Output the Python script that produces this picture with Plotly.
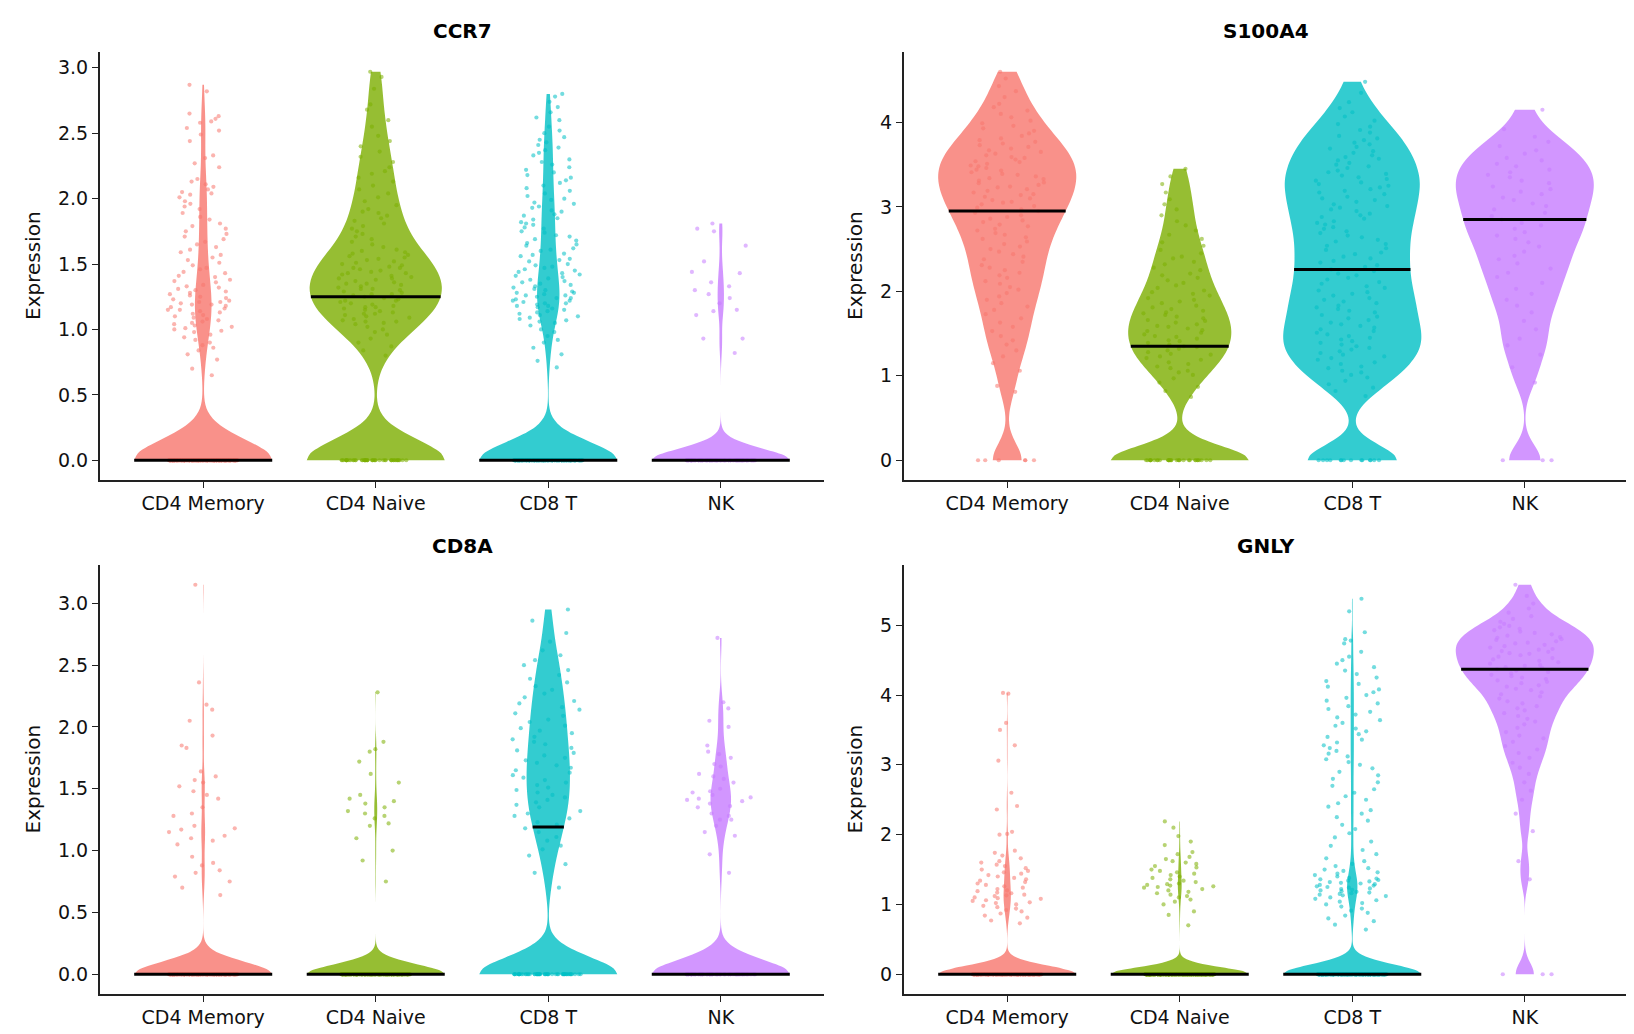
import numpy as np
import plotly.graph_objects as go

cell_types = ["CD4 Memory", "CD4 Naive", "CD8 T", "NK"]
genes = ["CCR7", "S100A4", "CD8A", "GNLY"]
colors = ["#F8766D", "#7CAE00", "#00BFC4", "#C77CFF"]

# ---------------- CCR7 ----------------
ccr7_zero_counts = [320, 48, 240, 140]
ccr7_medians = [0.0, 1.25, 0.0, 0.0]
ccr7_cd4_memory = [
    2.87, 2.82, 2.65, 2.63, 2.61, 2.59, 2.58, 2.54, 2.52, 2.49, 2.44, 2.33, 2.31, 2.27, 2.24, 2.15, 2.13, 2.11,
    2.09, 2.07, 2.05, 2.04, 2.03, 2.01, 1.98, 1.96, 1.94, 1.92, 1.89, 1.86, 1.84, 1.81,
    1.79, 1.77, 1.75, 1.73, 1.71, 1.69, 1.67, 1.65, 1.63, 1.61, 1.59, 1.57, 1.55, 1.53, 1.51,
    1.49, 1.47, 1.46, 1.44, 1.43, 1.41, 1.40, 1.38, 1.37, 1.36, 1.34, 1.33, 1.32, 1.31, 1.30, 1.29, 1.28,
    1.27, 1.26, 1.25, 1.24, 1.23, 1.22, 1.21, 1.21, 1.20, 1.19, 1.19, 1.18, 1.17, 1.16, 1.15, 1.15, 1.14,
    1.13, 1.12, 1.11, 1.10, 1.09, 1.08, 1.07, 1.06, 1.05, 1.04, 1.03, 1.02, 1.01, 1.00, 0.99, 0.98,
    0.96, 0.94, 0.92, 0.90, 0.88, 0.86, 0.84, 0.81, 0.77, 0.70, 0.65]
ccr7_cd4_naive = [
    2.97, 2.93, 2.84, 2.72, 2.68, 2.60, 2.55,
    2.48, 2.44, 2.40, 2.36, 2.32, 2.28, 2.24, 2.21,
    2.19, 2.16, 2.13, 2.10, 2.07, 2.04, 2.01, 1.98, 1.95, 1.92, 1.90,
    1.89, 1.87, 1.85, 1.83, 1.81, 1.79, 1.77, 1.75, 1.73, 1.71, 1.69, 1.67, 1.65, 1.63, 1.61, 1.60,
    1.59, 1.58, 1.57, 1.56, 1.55, 1.54, 1.53, 1.52, 1.51, 1.50, 1.49, 1.48, 1.47, 1.47, 1.46, 1.45, 1.44,
    1.43, 1.43, 1.42, 1.41, 1.40, 1.39, 1.39, 1.38, 1.37, 1.36, 1.35, 1.35, 1.34, 1.33, 1.32, 1.31, 1.31,
    1.30, 1.29, 1.28, 1.27, 1.27, 1.26, 1.25,
    1.24, 1.23, 1.22, 1.22, 1.21, 1.20, 1.19, 1.18, 1.17, 1.17, 1.16, 1.15, 1.14, 1.13, 1.12, 1.12, 1.11,
    1.10, 1.09, 1.08, 1.07, 1.06, 1.06, 1.05, 1.04, 1.02, 1.00,
    0.98, 0.96, 0.93, 0.90, 0.87, 0.84, 0.80]
ccr7_cd8_t = [
    2.80, 2.78, 2.74, 2.70, 2.66, 2.62, 2.60, 2.55, 2.52, 2.50, 2.47, 2.45, 2.43, 2.41,
    2.39, 2.37, 2.35, 2.33, 2.30, 2.28, 2.26, 2.24, 2.22, 2.20, 2.18, 2.16, 2.14, 2.12, 2.10, 2.08, 2.06,
    2.04, 2.02, 2.00, 1.99, 1.97, 1.96, 1.94, 1.93, 1.91, 1.90, 1.88, 1.87, 1.85, 1.84, 1.82, 1.81, 1.80,
    1.78, 1.77, 1.75, 1.74, 1.72, 1.71, 1.69, 1.68, 1.66, 1.65, 1.64, 1.62, 1.61, 1.60, 1.58, 1.57, 1.56,
    1.54, 1.53, 1.52, 1.50, 1.49, 1.48, 1.47, 1.46, 1.45, 1.44, 1.43, 1.42, 1.41, 1.40, 1.39, 1.38, 1.37,
    1.36, 1.35, 1.34, 1.33, 1.32, 1.31, 1.30, 1.29, 1.28, 1.28, 1.27, 1.26, 1.26, 1.25, 1.24, 1.24, 1.23,
    1.22, 1.22, 1.21, 1.20, 1.20, 1.19, 1.18, 1.18, 1.17, 1.16, 1.15, 1.14, 1.13, 1.12, 1.11, 1.10, 1.09,
    1.08, 1.07, 1.06, 1.05, 1.03, 1.00, 0.98, 0.95, 0.92, 0.90, 0.86, 0.81, 0.76, 0.71]
ccr7_nk = [1.81, 1.77, 1.75, 1.64, 1.52, 1.44, 1.43, 1.36, 1.33, 1.30, 1.27, 1.24, 1.20, 1.15, 1.14,
           1.11, 0.93, 0.93, 0.82]

# ---------------- S100A4 ----------------
s100a4_zero_counts = [6, 32, 14, 3]
s100a4_medians = [2.95, 1.35, 2.26, 2.85]
s100a4_cd4_memory = [
    4.60, 4.52, 4.43, 4.37, 4.30, 4.22, 4.18, 4.14, 4.10, 4.06, 4.02, 3.99, 3.96, 3.93, 3.90, 3.87, 3.84,
    3.81, 3.79, 3.77, 3.75, 3.73, 3.71, 3.69, 3.67, 3.65, 3.63, 3.61, 3.59, 3.58, 3.56, 3.54, 3.53, 3.51,
    3.49, 3.48, 3.46, 3.44, 3.43, 3.41, 3.39, 3.38, 3.36, 3.34, 3.33, 3.31, 3.29, 3.28, 3.26, 3.24, 3.23,
    3.21, 3.19, 3.17, 3.15, 3.14, 3.12, 3.10, 3.08, 3.06, 3.05, 3.03, 3.01, 2.99, 2.97, 2.95, 2.93, 2.90,
    2.88, 2.86, 2.84, 2.82, 2.79, 2.77, 2.74, 2.72, 2.69, 2.67, 2.64, 2.62, 2.59, 2.56, 2.53, 2.50, 2.47,
    2.44, 2.41, 2.38, 2.35, 2.31, 2.28, 2.25, 2.22, 2.19, 2.16, 2.12, 2.09, 2.05, 2.02, 1.98, 1.94, 1.90,
    1.86, 1.82, 1.78, 1.73, 1.68, 1.63, 1.58, 1.53, 1.47, 1.42, 1.37, 1.30, 1.23, 1.15, 1.06, 0.88, 0.81]
s100a4_cd4_naive = [
    3.45, 3.36, 3.27, 3.17, 3.09, 3.03, 2.97, 2.90, 2.83, 2.78, 2.72, 2.67, 2.62, 2.58, 2.54, 2.49, 2.45,
    2.41, 2.39, 2.35, 2.32, 2.28, 2.25, 2.21, 2.19, 2.16, 2.13, 2.10, 2.07, 2.04, 2.01, 1.99, 1.97, 1.95,
    1.92, 1.90, 1.88, 1.86, 1.83, 1.81, 1.79, 1.77, 1.75, 1.74, 1.72, 1.70, 1.68, 1.66, 1.65, 1.63, 1.61,
    1.59, 1.58, 1.56, 1.54, 1.53, 1.51, 1.49, 1.47, 1.46, 1.44, 1.42, 1.41, 1.39, 1.37, 1.35, 1.34, 1.32,
    1.30, 1.28, 1.26, 1.25, 1.23, 1.21, 1.19, 1.16, 1.14, 1.11, 1.09, 1.06, 1.04, 1.01, 0.97, 0.92, 0.87,
    0.82, 0.75]
s100a4_cd8_t = [
    4.48, 4.35, 4.24, 4.17, 4.12, 4.07, 4.02, 3.98, 3.95, 3.91, 3.88, 3.84, 3.81, 3.79, 3.76, 3.74, 3.71,
    3.69, 3.66, 3.64, 3.61, 3.59, 3.57, 3.55, 3.52, 3.50, 3.48, 3.46, 3.43, 3.41, 3.39, 3.37, 3.35, 3.33,
    3.31, 3.29, 3.27, 3.25, 3.23, 3.21, 3.19, 3.17, 3.15, 3.12, 3.10, 3.08, 3.06, 3.03, 3.01, 2.99, 2.97,
    2.95, 2.92, 2.90, 2.88, 2.86, 2.83, 2.81, 2.79, 2.76, 2.74, 2.71, 2.69, 2.66, 2.64, 2.61, 2.59, 2.56,
    2.54, 2.51, 2.49, 2.46, 2.44, 2.41, 2.39, 2.36, 2.34, 2.31, 2.29, 2.26, 2.24, 2.21, 2.19, 2.16, 2.14,
    2.11, 2.09, 2.06, 2.04, 2.01, 1.99, 1.97, 1.95, 1.92, 1.90, 1.88, 1.86, 1.83, 1.81, 1.79, 1.77, 1.75,
    1.72, 1.70, 1.68, 1.66, 1.63, 1.61, 1.59, 1.57, 1.55, 1.53, 1.51, 1.49, 1.47, 1.45, 1.43, 1.41, 1.39,
    1.37, 1.35, 1.33, 1.31, 1.29, 1.27, 1.25, 1.23, 1.21, 1.19, 1.16, 1.14, 1.11, 1.09, 1.06, 1.04, 1.01,
    0.98, 0.94, 0.90, 0.86, 0.82, 0.76]
s100a4_nk = [
    4.15, 3.92, 3.83, 3.77, 3.72, 3.67, 3.63, 3.58, 3.55, 3.51, 3.48, 3.44, 3.41, 3.38,
    3.35, 3.31, 3.28, 3.24, 3.21, 3.18, 3.15, 3.11, 3.08, 3.04, 3.01, 2.97, 2.93, 2.89, 2.85, 2.81, 2.78,
    2.74, 2.70, 2.66, 2.62, 2.58, 2.53, 2.47, 2.42, 2.38, 2.33, 2.27, 2.22, 2.17, 2.10, 2.03, 1.97, 1.90,
    1.83, 1.75, 1.65, 1.55, 1.44, 1.36, 1.25, 1.10, 0.92]

# ---------------- CD8A ----------------
cd8a_zero_counts = [300, 350, 55, 95]
cd8a_medians = [0.0, 0.0, 1.19, 0.0]
cd8a_cd4_memory = [
    3.15, 2.36, 2.18, 2.14, 2.05, 1.93, 1.85, 1.83, 1.64, 1.60, 1.57, 1.55, 1.52, 1.48, 1.45, 1.42, 1.35,
    1.30, 1.28, 1.20, 1.18, 1.17, 1.15, 1.12, 1.10, 1.08, 1.05, 0.95, 0.90, 0.88, 0.84, 0.82, 0.79, 0.75,
    0.70, 0.64]
cd8a_cd4_naive = [
    2.28, 1.88, 1.82, 1.80, 1.72, 1.62, 1.55, 1.45, 1.42, 1.40, 1.38, 1.35, 1.32, 1.30, 1.28, 1.26, 1.22,
    1.20, 1.10, 1.00, 0.92, 0.75]
cd8a_cd8_t = [
    2.95, 2.86, 2.76, 2.69, 2.62, 2.58, 2.54, 2.50, 2.46, 2.42, 2.39, 2.36, 2.33, 2.30, 2.27, 2.24, 2.21,
    2.19, 2.16, 2.14, 2.11, 2.09, 2.06, 2.04, 2.01, 1.99, 1.97, 1.95, 1.92, 1.90, 1.88, 1.86, 1.83, 1.81,
    1.79, 1.77, 1.75, 1.73, 1.71, 1.69, 1.67, 1.65, 1.63, 1.61, 1.59, 1.57, 1.55, 1.53, 1.51, 1.49, 1.47,
    1.45, 1.43, 1.41, 1.39, 1.37, 1.35, 1.32, 1.30, 1.28, 1.26, 1.23, 1.21, 1.18, 1.15, 1.11, 1.08, 1.04,
    1.01, 0.96, 0.89, 0.82, 0.70]
cd8a_nk = [
    2.72, 2.20, 2.15, 2.05, 2.00, 1.85, 1.80, 1.78, 1.75, 1.70, 1.68, 1.62, 1.60, 1.58, 1.55, 1.50, 1.48,
    1.47, 1.45, 1.43, 1.42, 1.41, 1.40, 1.38, 1.36, 1.35, 1.30, 1.28, 1.25, 1.25, 1.20, 1.15, 1.12, 0.97,
    0.82]

# ---------------- GNLY ----------------
gnly_zero_counts = [350, 550, 380, 3]
gnly_medians = [0.0, 0.0, 0.0, 4.37]
gnly_cd4_memory = [
    4.03, 4.02, 3.60, 3.50, 3.28, 3.06, 2.60, 2.41, 2.36, 2.04, 2.01, 2.00, 1.77, 1.74, 1.70, 1.66, 1.62,
    1.60, 1.57, 1.55, 1.52, 1.50, 1.48, 1.46, 1.44, 1.42, 1.40, 1.38, 1.36, 1.34, 1.32, 1.30, 1.28, 1.26,
    1.24, 1.22, 1.20, 1.19, 1.17, 1.16, 1.14, 1.13, 1.12, 1.10, 1.09, 1.08, 1.06, 1.05, 1.03, 1.02, 1.00,
    0.98, 0.96, 0.94, 0.92, 0.90, 0.87, 0.84, 0.81, 0.77, 0.73]
gnly_cd4_naive = [
    2.19, 2.10, 1.98, 1.90, 1.85, 1.75, 1.72, 1.68, 1.65, 1.62, 1.60, 1.58, 1.55, 1.53, 1.50, 1.48, 1.46,
    1.44, 1.42, 1.40, 1.38, 1.36, 1.34, 1.32, 1.30, 1.29, 1.28, 1.27, 1.26, 1.25, 1.24, 1.22, 1.20, 1.18,
    1.16, 1.14, 1.12, 1.10, 1.07, 1.04, 1.00, 0.90, 0.85, 0.70]
gnly_cd8_t = [
    5.38, 5.20, 4.90, 4.80, 4.78, 4.74, 4.62, 4.55, 4.50, 4.45, 4.40, 4.35, 4.30, 4.25, 4.20, 4.16, 4.12,
    4.08, 4.04, 4.00, 3.96, 3.92, 3.88, 3.84, 3.80, 3.76, 3.72, 3.68, 3.64, 3.60, 3.56, 3.52, 3.48, 3.44,
    3.40, 3.36, 3.32, 3.28, 3.24, 3.20, 3.16, 3.12, 3.08, 3.04, 3.00, 2.95, 2.90, 2.85, 2.80, 2.75, 2.70,
    2.65, 2.60, 2.55, 2.50, 2.45, 2.40, 2.35, 2.30, 2.25, 2.20, 2.14, 2.08, 2.02, 1.96, 1.90, 1.84, 1.78,
    1.72, 1.66, 1.62, 1.58, 1.55, 1.52, 1.50, 1.48, 1.46, 1.44, 1.42, 1.40, 1.38, 1.37, 1.36, 1.35, 1.34,
    1.33, 1.32, 1.31, 1.30, 1.29, 1.28, 1.27, 1.26, 1.25, 1.24, 1.23, 1.22, 1.21, 1.20, 1.19, 1.18, 1.17,
    1.16, 1.15, 1.14, 1.13, 1.12, 1.10, 1.08, 1.06, 1.04, 1.02, 1.00, 0.97, 0.94, 0.91, 0.88, 0.84, 0.80,
    0.76, 0.71, 0.64]
gnly_nk = [
    5.58, 5.42, 5.31, 5.24, 5.18, 5.13, 5.09, 5.05, 5.02,
    4.99, 4.97, 4.95, 4.93, 4.91, 4.89, 4.87, 4.85, 4.83, 4.82, 4.80, 4.79, 4.77, 4.75, 4.74, 4.72,
    4.70, 4.68, 4.66, 4.65, 4.63, 4.62, 4.60, 4.59, 4.57, 4.55, 4.53, 4.51, 4.49, 4.47, 4.45, 4.43, 4.42,
    4.40, 4.39, 4.37, 4.35, 4.33, 4.31, 4.29, 4.27, 4.25, 4.23, 4.21, 4.19, 4.17, 4.14, 4.12, 4.09, 4.07,
    4.04, 4.01, 3.98, 3.95, 3.91, 3.88, 3.84, 3.81, 3.78, 3.74, 3.70, 3.66, 3.62, 3.58, 3.53, 3.47, 3.42,
    3.38, 3.33, 3.27, 3.22, 3.17, 3.10, 3.03, 2.96, 2.87, 2.75, 2.63, 2.50, 2.30, 2.05, 1.62, 1.36]

panels = [
    ("CCR7", ccr7_zero_counts, ccr7_medians, [ccr7_cd4_memory, ccr7_cd4_naive, ccr7_cd8_t, ccr7_nk]),
    ("S100A4", s100a4_zero_counts, s100a4_medians, [s100a4_cd4_memory, s100a4_cd4_naive, s100a4_cd8_t, s100a4_nk]),
    ("CD8A", cd8a_zero_counts, cd8a_medians, [cd8a_cd4_memory, cd8a_cd4_naive, cd8a_cd8_t, cd8a_nk]),
    ("GNLY", gnly_zero_counts, gnly_medians, [gnly_cd4_memory, gnly_cd4_naive, gnly_cd8_t, gnly_nk]),
]

# ---------------- styling ----------------
kde_bandwidth = {
    "CCR7": [0.16, 0.16, 0.14, 0.09],
    "S100A4": [0.20, 0.17, 0.18, 0.18],
    "CD8A": [0.10, 0.08, 0.14, 0.12],
    "GNLY": [0.12, 0.10, 0.14, 0.16],
}
VIOLIN_W = 0.8
FONT = "DejaVu Sans"
W, H = 1634, 1034
x_dom = [[91.7 / W, 816.3 / W], [895.7 / W, 1620.3 / W]]
y_dom = [[(H - 471.7) / H, (H - 44.3) / H], [(H - 985.7) / H, (H - 557.3) / H]]
tick_step = {"CCR7": 0.5, "S100A4": 1, "CD8A": 0.5, "GNLY": 1}
tick_fmt = {"CCR7": ".1f", "S100A4": "d", "CD8A": ".1f", "GNLY": "d"}


def rgba(hx, a):
    hx = hx.lstrip("#")
    r, g, b = int(hx[0:2], 16), int(hx[2:4], 16), int(hx[4:6], 16)
    return f"rgba({r},{g},{b},{a})"


def density(vals, bw, t):
    t = np.atleast_1d(np.asarray(t, float))
    return np.exp(-0.5 * ((t[:, None] - vals[None, :]) / bw) ** 2).sum(axis=1)


def half_width_at(vals, bw, m):
    lo, hi = vals.min(), vals.max()
    n = int(np.ceil((hi - lo) / (bw / 3.0)))
    grid = lo + np.arange(n + 1) * (hi - lo) / n
    return (VIOLIN_W / 2) * density(vals, bw, m)[0] / density(vals, bw, grid).max()


fig = go.Figure()
layout_axes = {}
annotations = []

for p, (gene, zero_counts, medians, groups) in enumerate(panels):
    row, col = divmod(p, 2)
    sfx = "" if p == 0 else str(p + 1)
    xa, ya = "x" + sfx, "y" + sfx
    panel_max = 0.0
    for i, nz in enumerate(groups):
        nz = np.asarray(nz, float)
        zeros = np.zeros(zero_counts[i])
        allv = np.concatenate([zeros, nz])
        panel_max = max(panel_max, allv.max())
        bw = kde_bandwidth[gene][i]
        c = colors[i]
        fig.add_trace(go.Violin(
            x0=i, y=allv, xaxis=xa, yaxis=ya, width=VIOLIN_W, bandwidth=bw,
            spanmode="hard", scalemode="width", side="both", points=False,
            fillcolor=rgba(c, 0.8), line=dict(width=0, color=rgba(c, 0.0)),
            box_visible=False, meanline_visible=False, hoverinfo="skip",
            showlegend=False, name=cell_types[i]))
        for pts, jit in ((zeros, 0.5), (nz, 0.55)):
            if len(pts) == 0:
                continue
            fig.add_trace(go.Box(
                x0=i, y=pts, xaxis=xa, yaxis=ya, width=VIOLIN_W, boxpoints="all",
                jitter=jit, pointpos=0, fillcolor="rgba(0,0,0,0)",
                line=dict(width=0, color="rgba(0,0,0,0)"),
                marker=dict(color=c, size=4.2, opacity=0.55, line=dict(width=0)),
                hoverinfo="skip", showlegend=False, name=cell_types[i]))
        m = medians[i]
        hw = half_width_at(allv, bw, m)
        fig.add_trace(go.Scatter(
            x=[i - hw, i + hw], y=[m, m], xaxis=xa, yaxis=ya, mode="lines",
            line=dict(color="black", width=3), hoverinfo="skip", showlegend=False))

    pad = 0.05 * panel_max
    axis_common = dict(showline=True, linecolor="#222222", linewidth=1.6, ticks="outside",
                       ticklen=6, tickwidth=1.4, tickcolor="#222222", showgrid=False,
                       zeroline=False, tickfont=dict(family=FONT, size=19, color="#111111"))
    layout_axes["xaxis" + sfx] = dict(
        domain=x_dom[col], anchor=ya, range=[-0.6, 3.6], tickmode="array",
        tickvals=[0, 1, 2, 3], ticktext=cell_types, fixedrange=True, **axis_common)
    layout_axes["yaxis" + sfx] = dict(
        domain=y_dom[row], anchor=xa, range=[-pad, panel_max + pad], tick0=0,
        dtick=tick_step[gene], tickformat=tick_fmt[gene], fixedrange=True, **axis_common)

    cx = (x_dom[col][0] + x_dom[col][1]) / 2
    title_y = (H - 23) / H if row == 0 else (H - 538) / H
    annotations.append(dict(text=f"<b>{gene}</b>", x=cx, y=title_y, xref="paper", yref="paper",
                            xanchor="center", yanchor="middle", showarrow=False,
                            font=dict(family=FONT, size=20, color="#000000")))
    lab_x = 25 / W if col == 0 else 847 / W
    annotations.append(dict(text="Expression", x=lab_x, y=(y_dom[row][0] + y_dom[row][1]) / 2,
                            xref="paper", yref="paper", textangle=-90, xanchor="center",
                            yanchor="middle", showarrow=False,
                            font=dict(family=FONT, size=20, color="#111111")))

fig.update_layout(
    width=W, height=H, margin=dict(l=0, r=0, t=0, b=0),
    paper_bgcolor="white", plot_bgcolor="white",
    violinmode="overlay", boxmode="overlay", showlegend=False,
    annotations=annotations, font=dict(family=FONT), **layout_axes)

fig.write_html("out.html")
